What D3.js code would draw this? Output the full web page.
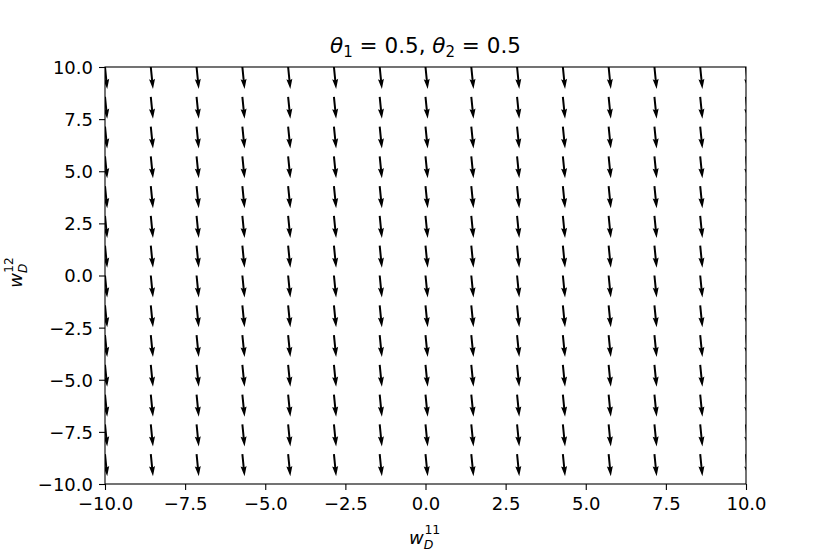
<!DOCTYPE html>
<html><head><meta charset="utf-8">
<script src="https://cdn.jsdelivr.net/npm/d3@7"></script>
<style>body{margin:0;background:#fff}svg text{font-family:"DejaVu Sans",sans-serif}</style>
</head><body>
<svg id="c" width="830" height="554"></svg>
<script>
const xGrid = [-10, -8.571, -7.143, -5.714, -4.286, -2.857, -1.429, 0, 1.429, 2.857, 4.286, 5.714, 7.143, 8.571, 10];
const yGrid = [-10, -8.571, -7.143, -5.714, -4.286, -2.857, -1.429, 0, 1.429, 2.857, 4.286, 5.714, 7.143, 8.571, 10];
const uValues = [0.1, 0.1, 0.1, 0.1, 0.1, 0.1, 0.1, 0.1, 0.1, 0.1, 0.1, 0.1, 0.1, 0.1, 0.1];
const vValues = [-1, -1, -1, -1, -1, -1, -1, -1, -1, -1, -1, -1, -1, -1, -1];
const xTicks = [-10, -7.5, -5, -2.5, 0, 2.5, 5, 7.5, 10];
const yTicks = [-10, -7.5, -5, -2.5, 0, 2.5, 5, 7.5, 10];

const svg = d3.select("#c");
const pL = 105, pR = 746, pT = 67, pB = 484;
const x = d3.scaleLinear().domain([-10, 10]).range([pL, pR]);
const y = d3.scaleLinear().domain([-10, 10]).range([pB, pT]);
const fmt = d => d3.format(".1f")(d).replace("-", "\u2212");

svg.append("defs").append("clipPath").attr("id", "clip")
  .append("rect").attr("x", pL).attr("y", pT).attr("width", pR - pL).attr("height", pB - pT);

// arrows
const pxPerUnit = 22;
const w = 2, hw = 3 * w, hl = 5 * w, hal = 4.5 * w;
const arrows = [];
xGrid.forEach((xv, i) => {
  yGrid.forEach(yv => {
    arrows.push({ x: xv, y: yv, u: uValues[i], v: vValues[i] });
  });
});
const g = svg.append("g").attr("clip-path", "url(#clip)");
g.selectAll("path").data(arrows).join("path")
  .attr("d", d => {
    const mag = Math.hypot(d.u, d.v);
    const L = mag * pxPerUnit;
    const pts = [[0, -w / 2], [L - hal, -w / 2], [L - hl, -hw / 2], [L, 0], [L - hl, hw / 2], [L - hal, w / 2], [0, w / 2]];
    return "M" + pts.map(p => p.join(",")).join("L") + "Z";
  })
  .attr("transform", d => {
    const ang = Math.atan2(-d.v, d.u) * 180 / Math.PI;
    return `translate(${x(d.x)},${y(d.y)}) rotate(${ang})`;
  })
  .attr("fill", "#000");

// axes
const xAxis = svg.append("g").attr("transform", `translate(0,${pB})`)
  .call(d3.axisBottom(x).tickValues(xTicks).tickFormat(fmt).tickSize(6).tickPadding(7));
const yAxis = svg.append("g").attr("transform", `translate(${pL},0)`)
  .call(d3.axisLeft(y).tickValues(yTicks).tickFormat(fmt).tickSize(6).tickPadding(6));
[xAxis, yAxis].forEach(a => {
  a.select(".domain").remove();
  a.selectAll("line").attr("stroke", "#000").attr("stroke-width", 1.1);
  a.selectAll("text").attr("font-size", 18).attr("fill", "#000").attr("font-family", "DejaVu Sans");
});
xAxis.selectAll("text").attr("dy", "0.71em");
yAxis.selectAll("text").attr("dy", "0.36em");

svg.append("rect").attr("x", pL).attr("y", pT).attr("width", pR - pL).attr("height", pB - pT)
  .attr("fill", "none").attr("stroke", "#000").attr("stroke-width", 1.1);

// title
const t = svg.append("text").attr("x", (pL + pR) / 2).attr("y", 53)
  .attr("text-anchor", "middle").attr("font-size", 21.5).attr("fill", "#000");
t.append("tspan").attr("font-style", "italic").text("\u03b8");
t.append("tspan").attr("font-size", 15).attr("dy", 4).text("1");
t.append("tspan").attr("dy", -4).text(" = 0.5, ");
t.append("tspan").attr("font-style", "italic").text("\u03b8");
t.append("tspan").attr("font-size", 15).attr("dy", 4).text("2");
t.append("tspan").attr("dy", -4).text(" = 0.5");

// x label
const xl = svg.append("text").attr("x", 409).attr("y", 544)
  .attr("font-size", 18).attr("fill", "#000");
xl.append("tspan").attr("font-style", "italic").text("w");
xl.append("tspan").attr("font-style", "italic").attr("font-size", 12.5).attr("dy", 5).text("D");
xl.append("tspan").attr("font-size", 12.5).attr("dx", -9).attr("dy", -15).text("11");

// y label
const yl = svg.append("text").attr("transform", `translate(22,${(pT + pB) / 2 - 3}) rotate(-90)`)
  .attr("font-size", 18).attr("fill", "#000").attr("text-anchor", "middle");
yl.append("tspan").attr("font-style", "italic").text("w");
yl.append("tspan").attr("font-style", "italic").attr("font-size", 12).attr("dy", 5).text("D");
yl.append("tspan").attr("font-size", 12).attr("dx", -9).attr("dy", -14).text("12");
</script>
</body></html>
